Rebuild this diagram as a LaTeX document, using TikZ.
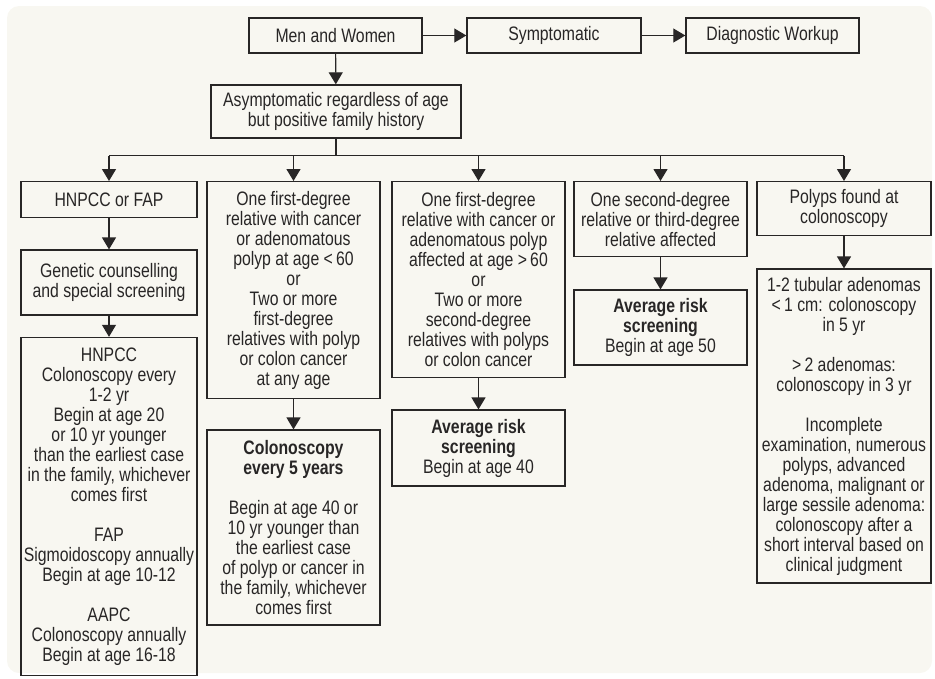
\documentclass[tikz,border=0pt]{standalone}
\usepackage{fontspec}
\setmainfont{Liberation Sans}[FakeStretch=0.81]
\usepackage{xcolor}
\usepackage{tikz}
\usetikzlibrary{arrows.meta,positioning}
\definecolor{paper}{RGB}{248,247,241}
\definecolor{ink}{RGB}{40,38,38}

\begin{document}
\begin{tikzpicture}[x=1pt, y=-1pt,
  box/.style={draw=ink, line width=1.4pt, align=center, inner sep=2pt,
    text=ink, font=\fontsize{19.5}{20}\selectfont},
  line/.style={draw=ink, line width=1.2pt},
  arr/.style={line, -{Triangle[width=14pt,length=12pt]}}
]
  \useasboundingbox (0,0) rectangle (935,678);
  \fill[paper, rounded corners=12pt] (7,6) rectangle (932,673);

  \node[box, minimum width=173pt, minimum height=35pt] (mw) at (335.5,35.5) {Men and Women};
  \node[box, minimum width=174pt, minimum height=35pt] (sym) at (554,35.5) {Symptomatic};
  \node[box, minimum width=173pt, minimum height=35pt] (dw) at (772.5,35.5) {Diagnostic Workup};
  \node[box, minimum width=250pt, minimum height=53pt] (asym) at (336,111.5) {%
    Asymptomatic regardless of age\\but positive family history};

  \node[box, anchor=north, minimum width=176pt, minimum height=36pt] (hf) at (109,181) {HNPCC or FAP};
  \node[box, below=31pt of hf, minimum width=176pt, minimum height=65pt] (gen) {%
    Genetic counselling\\and special screening};
  \node[box, below=21pt of gen, minimum width=176pt, minimum height=338pt] (hnpcc) {%
    HNPCC\\Colonoscopy every\\1-2 yr\\Begin at age 20\\or 10 yr younger\\than the earliest case\\
    in the family, whichever\\comes first\\[20pt]FAP\\Sigmoidoscopy annually\\Begin at age 10-12\\[20pt]
    AAPC\\Colonoscopy annually\\Begin at age 16-18};

  \node[box, anchor=north, minimum width=173pt, minimum height=217pt] (fdy) at (293.5,181) {%
    One first-degree\\relative with cancer\\or adenomatous\\polyp at age <\,60\\or\\Two or more\\
    first-degree\\relatives with polyp\\or colon cancer\\at any age};
  \node[box, below=30pt of fdy, minimum width=173pt, minimum height=195pt] (col5) {%
    \textbf{Colonoscopy}\\\textbf{every 5 years}\\[20pt]Begin at age 40 or\\10 yr younger than\\
    the earliest case\\of polyp or cancer in\\the family, whichever\\comes first};

  \node[box, anchor=north, minimum width=173pt, minimum height=196pt] (fdo) at (478.5,181) {%
    One first-degree\\relative with cancer or\\adenomatous polyp\\affected at age >\,60\\or\\
    Two or more\\second-degree\\relatives with polyps\\or colon cancer};
  \node[box, below=31pt of fdo, minimum width=173pt, minimum height=76pt] (avg40) {%
    \textbf{Average risk}\\\textbf{screening}\\Begin at age 40};

  \node[box, anchor=north, minimum width=173pt, minimum height=75pt] (sd) at (660.5,181) {%
    One second-degree\\relative or third-degree\\relative affected};
  \node[box, below=32pt of sd, minimum width=173pt, minimum height=75pt] (avg50) {%
    \textbf{Average risk}\\\textbf{screening}\\Begin at age 50};

  \node[box, anchor=north, minimum width=174pt, minimum height=54pt] (pf) at (844,181) {%
    Polyps found at\\colonoscopy};
  \node[box, below=32pt of pf, minimum width=174pt, minimum height=314pt] (fu) {%
    1-2 tubular adenomas\\<\,1 cm: colonoscopy\\in 5 yr\\[20pt]>\,2 adenomas:\\
    colonoscopy in 3 yr\\[20pt]Incomplete\\examination, numerous\\polyps, advanced\\
    adenoma, malignant or\\large sessile adenoma:\\colonoscopy after a\\
    short interval based on\\clinical judgment};

  \draw[arr] (mw) -- (sym);
  \draw[arr] (sym) -- (dw);
  \draw[arr] (mw) -- (asym);
  \draw[line] (asym.south) -- ++(0,17) coordinate (br);
  \draw[line] (br -| hf.north) -- (br -| pf.north);
  \foreach \n in {hf,fdy,fdo,sd,pf}
    \draw[arr] (br -| \n.north) -- (\n.north);
  \draw[arr] (hf) -- (gen);
  \draw[arr] (gen) -- (hnpcc);
  \draw[arr] (fdy) -- (col5);
  \draw[arr] (fdo) -- (avg40);
  \draw[arr] (sd) -- (avg50);
  \draw[arr] (pf) -- (fu);
\end{tikzpicture}
\end{document}
